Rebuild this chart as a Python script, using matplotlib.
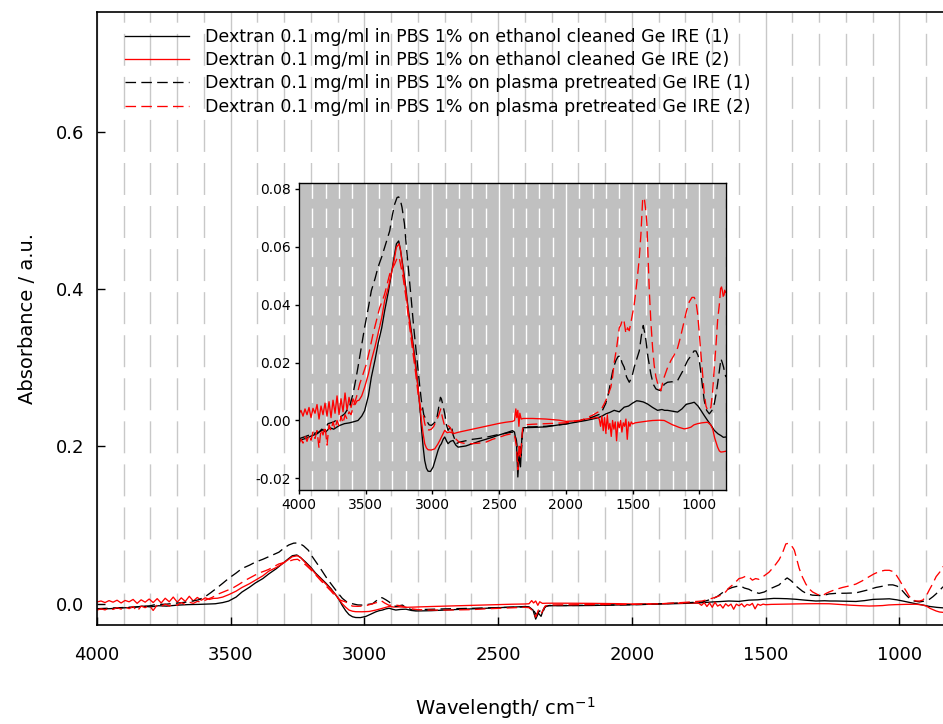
import numpy as np
import matplotlib
matplotlib.use("Agg")
import matplotlib.pyplot as plt
from matplotlib.ticker import MultipleLocator, FormatStrFormatter

plt.rcParams['font.family'] = ['DejaVu Sans']

# --- spectra (wavenumber / cm-1, absorbance / a.u.) ---
# Dextran on ethanol cleaned Ge IRE, sample 1
wn_eth1 = [4000, 3950, 3900, 3860, 3830, 3800, 3770, 3740, 3700, 3660, 3620, 3580, 3558, 3530,
           3508, 3480, 3458, 3430, 3408, 3380, 3358, 3330, 3308, 3285, 3270, 3253, 3240, 3220,
           3200, 3183, 3165, 3145, 3125, 3108, 3095, 3083, 3070, 3058, 3045, 3033, 3015, 2995,
           2975, 2958, 2945, 2933, 2920, 2908, 2895, 2883, 2865, 2845, 2825, 2808, 2750, 2700,
           2650, 2600, 2550, 2500, 2450, 2400, 2385, 2370, 2360, 2350, 2340, 2330, 2320, 2250,
           2150, 2050, 2000, 1950, 1900, 1850, 1800, 1763, 1730, 1700, 1670, 1638, 1600, 1563,
           1530, 1500, 1470, 1450, 1420, 1388, 1350, 1313, 1280, 1260, 1238, 1200, 1163, 1130,
           1100, 1088, 1060, 1038, 1010, 988, 960, 938, 910, 888, 860, 838, 820, 800]
abs_eth1 = [-0.0069, -0.0062, -0.0052, -0.0045, -0.0030, -0.0040, -0.0025, -0.0030, -0.0018,
            -0.0011, -0.0008, -0.0003, 0.0000, 0.0015, 0.0034, 0.0085, 0.0149, 0.0210, 0.0264,
            0.0320, 0.0379, 0.0445, 0.0506, 0.0570, 0.0610, 0.0620, 0.0590, 0.0529, 0.0460,
            0.0390, 0.0330, 0.0264, 0.0190, 0.0115, 0.0050, -0.0023, -0.0090, -0.0138, -0.0165,
            -0.0175, -0.0176, -0.0161, -0.0130, -0.0103, -0.0088, -0.0080, -0.0065, -0.0057,
            -0.0070, -0.0080, -0.0072, -0.0069, -0.0085, -0.0092, -0.0088, -0.0080, -0.0072,
            -0.0065, -0.0058, -0.0050, -0.0043, -0.0035, -0.0040, -0.0080, -0.0195, -0.0120,
            -0.0160, -0.0060, -0.0025, -0.0024, -0.0022, -0.0015, -0.0012, -0.0008, -0.0004,
            0.0000, 0.0005, 0.0009, 0.0015, 0.0023, 0.0028, 0.0035, 0.0030, 0.0046, 0.0050,
            0.0060, 0.0068, 0.0067, 0.0064, 0.0057, 0.0045, 0.0035, 0.0038, 0.0035, 0.0035,
            0.0032, 0.0029, 0.0040, 0.0055, 0.0057, 0.0060, 0.0063, 0.0050, 0.0035, 0.0015,
            0.0000, -0.0018, -0.0034, -0.0046, -0.0052, -0.0058, -0.0057]

# Dextran on ethanol cleaned Ge IRE, sample 2
wn_eth2 = [4000, 3985, 3970, 3955, 3940, 3925, 3910, 3895, 3880, 3865, 3850, 3835, 3820, 3805,
           3790, 3775, 3760, 3745, 3730, 3715, 3700, 3685, 3670, 3655, 3640, 3625, 3610, 3595,
           3580, 3565, 3550, 3530, 3508, 3480, 3458, 3430, 3408, 3380, 3358, 3330, 3308, 3285,
           3270, 3250, 3238, 3220, 3200, 3183, 3165, 3145, 3125, 3108, 3095, 3083, 3070, 3058,
           3045, 3033, 3010, 2983, 2960, 2945, 2925, 2908, 2890, 2870, 2840, 2800, 2750, 2700,
           2650, 2600, 2550, 2500, 2450, 2400, 2385, 2375, 2368, 2360, 2352, 2345, 2335, 2320,
           2250, 2150, 2050, 2000, 1950, 1900, 1850, 1800, 1763, 1750, 1740, 1730, 1720, 1710,
           1700, 1690, 1680, 1670, 1660, 1650, 1640, 1630, 1620, 1610, 1600, 1590, 1580, 1570,
           1560, 1550, 1540, 1530, 1520, 1510, 1500, 1480, 1450, 1420, 1388, 1350, 1300, 1263,
           1230, 1200, 1188, 1150, 1113, 1090, 1063, 1040, 1013, 980, 938, 915, 900, 885, 863,
           850, 838, 820, 800]
abs_eth2 = [0.0023, 0.0035, 0.0015, 0.0040, 0.0020, 0.0045, 0.0010, 0.0042, 0.0025, 0.0055,
            0.0005, 0.0050, 0.0020, 0.0060, 0.0015, 0.0065, 0.0010, 0.0070, 0.0025, 0.0085,
            0.0020, 0.0075, 0.0030, 0.0095, 0.0035, 0.0080, 0.0045, 0.0075, 0.0055, 0.0068,
            0.0070, 0.0085, 0.0115, 0.0160, 0.0207, 0.0255, 0.0299, 0.0355, 0.0414, 0.0460,
            0.0506, 0.0560, 0.0598, 0.0610, 0.0585, 0.0517, 0.0450, 0.0380, 0.0320, 0.0253,
            0.0180, 0.0115, 0.0055, 0.0000, -0.0045, -0.0080, -0.0095, -0.0101, -0.0102,
            -0.0098, -0.0082, -0.0069, -0.0050, -0.0034, -0.0042, -0.0040, -0.0045, -0.0040,
            -0.0035, -0.0030, -0.0025, -0.0020, -0.0015, -0.0010, -0.0006, -0.0003, 0.0000,
            0.0040, 0.0010, 0.0035, -0.0020, 0.0025, 0.0005, 0.0007, 0.0007, 0.0005, 0.0001,
            -0.0003, -0.0002, 0.0000, 0.0005, 0.0008, 0.0011, 0.0005, -0.0020, 0.0015, -0.0035,
            0.0010, -0.0045, 0.0020, -0.0030, -0.0010, -0.0055, 0.0000, -0.0030, -0.0005,
            -0.0070, -0.0005, -0.0025, 0.0000, -0.0040, -0.0008, -0.0020, 0.0005, -0.0065,
            -0.0005, -0.0020, -0.0005, -0.0012, -0.0008, -0.0006, -0.0004, -0.0002, 0.0000,
            0.0001, 0.0000, -0.0008, -0.0015, -0.0017, -0.0024, -0.0029, -0.0027, -0.0023,
            -0.0015, -0.0011, -0.0008, -0.0006, -0.0015, -0.0029, -0.0060, -0.0092, -0.0105,
            -0.0109, -0.0108, -0.0106]

# Dextran on plasma pretreated Ge IRE, sample 1
wn_pla1 = [4000, 3950, 3900, 3850, 3800, 3783, 3740, 3700, 3658, 3620, 3595, 3575, 3558, 3530,
           3508, 3480, 3458, 3430, 3408, 3380, 3358, 3340, 3320, 3300, 3283, 3265, 3253, 3240,
           3228, 3210, 3195, 3175, 3158, 3140, 3120, 3100, 3083, 3065, 3045, 3025, 3008, 2990,
           2970, 2955, 2940, 2933, 2920, 2908, 2895, 2883, 2870, 2858, 2845, 2820, 2800, 2750,
           2700, 2650, 2600, 2550, 2500, 2450, 2400, 2385, 2370, 2358, 2345, 2335, 2325, 2310,
           2250, 2150, 2050, 2000, 1950, 1888, 1850, 1800, 1738, 1700, 1680, 1663, 1645, 1625,
           1610, 1593, 1580, 1563, 1545, 1525, 1505, 1488, 1470, 1450, 1435, 1420, 1408, 1400,
           1385, 1363, 1345, 1325, 1305, 1288, 1263, 1238, 1200, 1163, 1125, 1100, 1088, 1060,
           1040, 1025, 1010, 1000, 985, 975, 963, 945, 925, 905, 888, 875, 863, 850, 838, 828,
           818, 808, 800]
abs_pla1 = [-0.0063, -0.0055, -0.0046, -0.0040, -0.0025, -0.0011, -0.0005, 0.0008, 0.0023,
            0.0050, 0.0092, 0.0140, 0.0184, 0.0260, 0.0322, 0.0390, 0.0448, 0.0490, 0.0529,
            0.0565, 0.0598, 0.0625, 0.0655, 0.0710, 0.0747, 0.0770, 0.0772, 0.0760, 0.0736,
            0.0680, 0.0598, 0.0500, 0.0414, 0.0320, 0.0230, 0.0140, 0.0069, 0.0020, 0.0000,
            -0.0015, -0.0017, -0.0010, 0.0000, 0.0040, 0.0080, 0.0075, 0.0050, 0.0023, -0.0015,
            -0.0034, -0.0025, -0.0017, -0.0050, -0.0080, -0.0075, -0.0070, -0.0065, -0.0062,
            -0.0058, -0.0053, -0.0048, -0.0044, -0.0040, -0.0045, -0.0070, -0.0140, -0.0090,
            -0.0120, -0.0040, -0.0022, -0.0022, -0.0020, -0.0015, -0.0012, -0.0008, 0.0000,
            0.0005, 0.0012, 0.0023, 0.0060, 0.0095, 0.0138, 0.0180, 0.0207, 0.0220, 0.0224,
            0.0200, 0.0184, 0.0150, 0.0132, 0.0150, 0.0184, 0.0210, 0.0240, 0.0290, 0.0328,
            0.0300, 0.0276, 0.0220, 0.0160, 0.0125, 0.0109, 0.0105, 0.0103, 0.0125, 0.0132,
            0.0134, 0.0138, 0.0170, 0.0195, 0.0207, 0.0225, 0.0240, 0.0240, 0.0225, 0.0207,
            0.0150, 0.0110, 0.0069, 0.0035, 0.0023, 0.0035, 0.0057, 0.0090, 0.0126, 0.0170,
            0.0213, 0.0200, 0.0184, 0.0160, 0.0150]

# Dextran on plasma pretreated Ge IRE, sample 2
wn_pla2 = [4000, 3985, 3970, 3955, 3940, 3925, 3910, 3895, 3880, 3865, 3850, 3835, 3820, 3805,
           3790, 3775, 3760, 3745, 3730, 3715, 3700, 3685, 3670, 3655, 3640, 3625, 3610, 3595,
           3570, 3545, 3520, 3495, 3470, 3445, 3420, 3395, 3370, 3358, 3340, 3320, 3300, 3283,
           3265, 3250, 3235, 3220, 3200, 3183, 3165, 3145, 3125, 3108, 3090, 3070, 3058, 3045,
           3025, 3008, 2990, 2970, 2955, 2938, 2925, 2908, 2890, 2870, 2850, 2833, 2800, 2750,
           2700, 2650, 2600, 2550, 2500, 2450, 2400, 2385, 2370, 2360, 2350, 2340, 2325, 2310,
           2250, 2150, 2050, 2000, 1950, 1888, 1850, 1800, 1763, 1738, 1710, 1690, 1663, 1650,
           1638, 1620, 1600, 1588, 1575, 1563, 1550, 1538, 1525, 1512, 1500, 1488, 1475, 1463,
           1450, 1438, 1425, 1413, 1400, 1393, 1385, 1375, 1363, 1350, 1338, 1325, 1305, 1288,
           1275, 1263, 1240, 1213, 1190, 1163, 1140, 1113, 1095, 1075, 1055, 1038, 1025, 1013,
           1000, 988, 975, 963, 950, 938, 925, 913, 900, 888, 875, 863, 850, 838, 828, 818,
           810, 800]
abs_pla2 = [-0.0080, -0.0065, -0.0078, -0.0055, -0.0072, -0.0050, -0.0068, -0.0040, -0.0062,
            -0.0035, -0.0095, -0.0030, -0.0050, -0.0020, -0.0085, -0.0015, -0.0035, -0.0005,
            -0.0030, 0.0000, -0.0020, 0.0015, -0.0010, 0.0020, 0.0005, 0.0030, 0.0020, 0.0046,
            0.0080, 0.0126, 0.0160, 0.0195, 0.0245, 0.0299, 0.0345, 0.0390, 0.0420, 0.0437,
            0.0470, 0.0506, 0.0525, 0.0540, 0.0560, 0.0565, 0.0530, 0.0494, 0.0430, 0.0368,
            0.0300, 0.0230, 0.0160, 0.0092, 0.0045, 0.0023, -0.0010, -0.0030, -0.0033, -0.0030,
            -0.0020, 0.0000, 0.0015, 0.0040, 0.0010, -0.0020, -0.0015, -0.0023, -0.0040,
            -0.0060, -0.0075, -0.0080, -0.0080, -0.0078, -0.0075, -0.0065, -0.0058, -0.0050,
            -0.0045, -0.0050, -0.0090, -0.0170, -0.0080, -0.0130, -0.0030, -0.0015, -0.0013,
            -0.0011, -0.0009, -0.0008, -0.0004, 0.0000, 0.0008, 0.0018, 0.0028, 0.0035, 0.0060,
            0.0080, 0.0115, 0.0150, 0.0200, 0.0250, 0.0320, 0.0330, 0.0350, 0.0340, 0.0300,
            0.0320, 0.0310, 0.0340, 0.0370, 0.0400, 0.0450, 0.0500, 0.0560, 0.0640, 0.0760,
            0.0770, 0.0720, 0.0680, 0.0580, 0.0450, 0.0340, 0.0250, 0.0190, 0.0150, 0.0115,
            0.0103, 0.0130, 0.0150, 0.0180, 0.0207, 0.0225, 0.0250, 0.0290, 0.0345, 0.0380,
            0.0410, 0.0425, 0.0425, 0.0410, 0.0370, 0.0300, 0.0230, 0.0160, 0.0092, 0.0050,
            0.0035, 0.0035, 0.0046, 0.0100, 0.0180, 0.0260, 0.0345, 0.0400, 0.0470, 0.0450,
            0.0420, 0.0450, 0.0440]

labels = ["Dextran 0.1 mg/ml in PBS 1% on ethanol cleaned Ge IRE (1)",
          "Dextran 0.1 mg/ml in PBS 1% on ethanol cleaned Ge IRE (2)",
          "Dextran 0.1 mg/ml in PBS 1% on plasma pretreated Ge IRE (1)",
          "Dextran 0.1 mg/ml in PBS 1% on plasma pretreated Ge IRE (2)"]

series = [(wn_eth1, abs_eth1, 'black', '-'),
          (wn_eth2, abs_eth2, 'red', '-'),
          (wn_pla1, abs_pla1, 'black', (0, (8, 4))),
          (wn_pla2, abs_pla2, 'red', (0, (8, 4)))]

main_yticks = [0.0, 0.2, 0.4, 0.6]
inset_yticks = [-0.02, 0.00, 0.02, 0.04, 0.06, 0.08]
xticks = [4000, 3500, 3000, 2500, 2000, 1500, 1000]


def draw_grid(ax, color, dash):
    # solid lines every 500 cm-1, dashed ones every 100 cm-1 in between
    for x in range(800, 4001, 100):
        if x % 500 == 0:
            ax.axvline(x, color=color, lw=1.0, zorder=0.5)
        else:
            ax.axvline(x, color=color, lw=1.0, ls=(0, dash), zorder=0.5)


fig = plt.figure(figsize=(9.43, 7.24), dpi=100)

# main axes runs past the right edge of the figure
ax = fig.add_axes([97 / 943, 99 / 724, 856 / 943, 613 / 724])
draw_grid(ax, '#c8c8c8', (23, 8))
handles = []
for (wn, ab, c, ls), lab in zip(series, labels):
    h, = ax.plot(wn, ab, color=c, ls=ls, lw=0.95, label=lab, zorder=2)
    handles.append(h)
ax.set_xlim(4000, 800)
ax.set_ylim(-0.027, 0.752)
ax.set_xticks(xticks)
ax.set_yticks(main_yticks)
ax.yaxis.set_major_formatter(FormatStrFormatter('%.1f'))
ax.tick_params(direction='in', length=6, width=1, labelsize=13, pad=9)
ax.tick_params(axis='x', pad=15)
ax.spines['right'].set_visible(False)
for s in ['left', 'top', 'bottom']:
    ax.spines[s].set_linewidth(1.2)
ax.set_xlabel('Wavelength/ cm$^{-1}$', fontsize=14)
ax.set_ylabel('Absorbance / a.u.', fontsize=14, labelpad=14)
ax.xaxis.set_label_coords((505 - 97) / 856, -0.114)

fig.legend(handles=handles, loc='upper left', bbox_to_anchor=(125 / 943, 1 - 28 / 724),
           frameon=False, fontsize=12.5, handlelength=3.7, handletextpad=0.9,
           labelspacing=0.3, borderpad=0, borderaxespad=0)

# inset with the same spectra zoomed on the absorbance axis
ins = fig.add_axes([299 / 943, 234 / 724, 427 / 943, 307 / 724])
ins.set_facecolor('#c0c0c0')
draw_grid(ins, 'white', (14, 7))
for wn, ab, c, ls in series:
    ins.plot(wn, ab, color=c, ls=ls, lw=0.95, zorder=2)
ins.set_xlim(4000, 800)
ins.set_ylim(-0.024, 0.082)
ins.set_xticks(xticks)
ins.set_yticks(inset_yticks)
ins.yaxis.set_major_formatter(FormatStrFormatter('%.2f'))
ins.tick_params(direction='out', length=3, width=1, labelsize=10, pad=3)
for s in ins.spines.values():
    s.set_linewidth(1.0)

fig.savefig('out.png', dpi=100)
